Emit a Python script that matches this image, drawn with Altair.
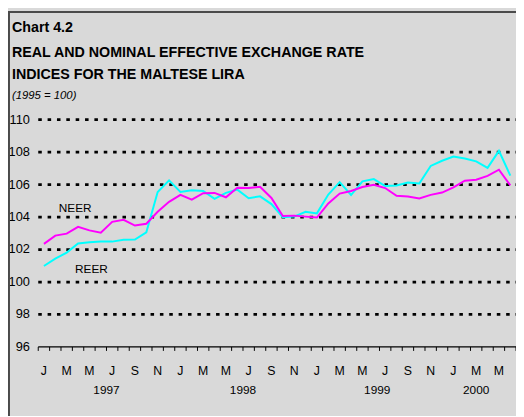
import altair as alt
import pandas as pd

# ---- data (Jan 1997 .. Jun 2000, monthly) ----
neer = [102.35, 102.86, 102.98, 103.40, 103.18, 103.04, 103.71, 103.83, 103.48, 103.59,
        104.33, 104.94, 105.37, 105.08, 105.47, 105.49, 105.22, 105.81, 105.79, 105.87,
        105.18, 104.07, 104.09, 104.03, 103.97, 104.84, 105.45, 105.61, 105.85, 105.99,
        105.79, 105.31, 105.27, 105.15, 105.37, 105.51, 105.83, 106.24, 106.30, 106.54,
        106.92, 105.95]
reer = [100.99, 101.44, 101.81, 102.37, 102.45, 102.49, 102.49, 102.60, 102.62, 103.06,
        105.55, 106.26, 105.55, 105.65, 105.61, 105.12, 105.49, 105.69, 105.16, 105.28,
        104.80, 103.99, 104.03, 104.33, 104.23, 105.39, 106.15, 105.36, 106.20, 106.34,
        105.91, 105.95, 106.13, 106.07, 107.15, 107.47, 107.73, 107.61, 107.43, 107.03,
        108.08, 106.56]
month_index = list(range(len(neer)))

tick_label_pos = list(range(0, 41, 2))
tick_labels = ["J", "M", "M", "J", "S", "N",
               "J", "M", "M", "J", "S", "N",
               "J", "M", "M", "J", "S", "N",
               "J", "M", "M"]
year_labels = ["1997", "1998", "1999", "2000"]
year_pos = [5.5, 17.5, 29.3, 38.0]
y_ticks = [96, 98, 100, 102, 104, 106, 108, 110]
grid_values = [98, 100, 102, 104, 106, 108, 110]
boundaries = [i - 0.5 for i in range(len(neer) + 1)]

title_lines = ["Chart 4.2",
               "REAL AND NOMINAL EFFECTIVE EXCHANGE RATE",
               "INDICES FOR THE MALTESE LIRA"]
subtitle = "(1995 = 100)"
series_names = ["NEER", "REER"]

# ---- layout constants ----
W = 485
H = 230.7
FONT = "Liberation Sans, Arial, sans-serif"

xs = alt.Scale(domain=[-0.5, 41.5], nice=False, zero=False)
ys = alt.Scale(domain=[96, 110], nice=False, zero=False)

df_lines = pd.DataFrame({"m": month_index + month_index,
                         "v": neer + reer,
                         "s": ["NEER"] * len(neer) + ["REER"] * len(reer)})

grid = alt.Chart(pd.DataFrame({"v": grid_values})).mark_rule(
    color="black", strokeWidth=2.8, strokeDash=[3.6, 5.9]
).encode(y=alt.Y("v:Q", scale=ys, axis=None), x=alt.value(0), x2=alt.value(W))

axis_line = alt.Chart(pd.DataFrame({"v": [96]})).mark_rule(
    color="black", strokeWidth=1.2
).encode(y=alt.Y("v:Q", scale=ys, axis=None), x=alt.value(0), x2=alt.value(W))

ticks = alt.Chart(pd.DataFrame({"m": boundaries})).mark_rule(
    color="black", strokeWidth=1
).encode(x=alt.X("m:Q", scale=xs, axis=None), y=alt.value(H), y2=alt.value(H + 4))

ylab = alt.Chart(pd.DataFrame({"v": y_ticks, "t": [str(v) for v in y_ticks]})).mark_text(
    align="right", baseline="middle", font=FONT, fontSize=13, color="black"
).encode(y=alt.Y("v:Q", scale=ys, axis=None), x=alt.value(-8.5), text="t:N")

mlab = alt.Chart(pd.DataFrame({"m": tick_label_pos, "t": tick_labels})).mark_text(
    align="center", baseline="middle", font=FONT, fontSize=12.5, color="black"
).encode(x=alt.X("m:Q", scale=xs, axis=None), y=alt.value(H + 24), text="t:N")

yrlab = alt.Chart(pd.DataFrame({"m": year_pos, "t": year_labels})).mark_text(
    align="center", baseline="middle", font=FONT, fontSize=12, color="black"
).encode(x=alt.X("m:Q", scale=xs, axis=None), y=alt.value(H + 44), text="t:N")

reer_line = alt.Chart(df_lines[df_lines.s == "REER"]).mark_line(
    strokeWidth=2, color="#00ffff").encode(
    x=alt.X("m:Q", scale=xs, axis=None), y=alt.Y("v:Q", scale=ys, axis=None))
neer_line = alt.Chart(df_lines[df_lines.s == "NEER"]).mark_line(
    strokeWidth=2, color="#ff00ff").encode(
    x=alt.X("m:Q", scale=xs, axis=None), y=alt.Y("v:Q", scale=ys, axis=None))

neer_lab = alt.Chart(pd.DataFrame({"t": [series_names[0]]})).mark_text(
    align="center", baseline="middle", font=FONT, fontSize=12, color="black"
).encode(x=alt.value(37.5), y=alt.value(89.7), text="t:N")
reer_lab = alt.Chart(pd.DataFrame({"t": [series_names[1]]})).mark_text(
    align="center", baseline="middle", font=FONT, fontSize=12, color="black"
).encode(x=alt.value(54), y=alt.value(151.7), text="t:N")

def title_text(t, yb, size, weight="bold", style="normal"):
    return alt.Chart(pd.DataFrame({"t": [t]})).mark_text(
        align="left", baseline="alphabetic", font=FONT, fontSize=size,
        fontWeight=weight, fontStyle=style, color="black"
    ).encode(x=alt.value(-26.7), y=alt.value(yb), text="t:N")

t1 = title_text(title_lines[0], -88.8, 14.5)
t2 = title_text(title_lines[1], -63.3, 14.5)
t3 = title_text(title_lines[2], -41.3, 14.5)
t4 = title_text(subtitle, -21.5, 11.5, weight="normal", style="italic")

frame_left = alt.Chart(pd.DataFrame({"a": [0]})).mark_rule(
    color="#4a4a4a", strokeWidth=2).encode(
    x=alt.value(-29.7), y=alt.value(-110.3), y2=alt.value(H + 70))
frame_top = alt.Chart(pd.DataFrame({"a": [0]})).mark_rule(
    color="#4a4a4a", strokeWidth=2).encode(
    y=alt.value(-109.3), x=alt.value(-30.7), x2=alt.value(W + 5))

chart = alt.layer(
    grid, axis_line, ticks, ylab, mlab, yrlab, reer_line, neer_line,
    neer_lab, reer_lab, t1, t2, t3, t4, frame_left, frame_top
).properties(
    width=W, height=H,
    autosize=alt.AutoSizeParams(type="none"),
    padding={"left": 30.7, "top": 110.3, "right": 0, "bottom": 67},
    background="#d9d9d9",
).configure_view(stroke=None)

chart.save("out.html", embed_options={"renderer": "svg", "actions": False})
